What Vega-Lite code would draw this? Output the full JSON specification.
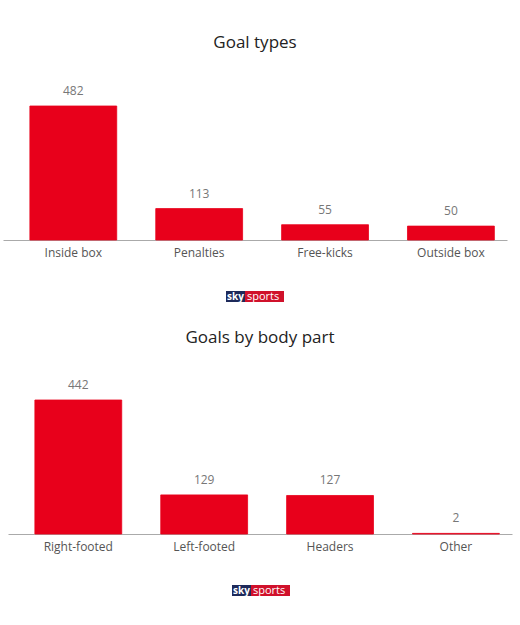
{
  "$schema": "https://vega.github.io/schema/vega-lite/v6.json",
  "background": "white",
  "padding": {"left": 3, "right": 3, "top": 34, "bottom": 0},
  "spacing": 27,
  "config": {
    "view": {"stroke": null},
    "font": "Open Sans",
    "title": {"fontSize": 17, "fontWeight": "normal", "color": "#222", "anchor": "middle"},
    "axisX": {"ticks": false, "domainColor": "#aaa", "labelColor": "#555", "labelFontSize": 12, "labelPadding": 7, "labelAngle": 0, "zindex": 0}
  },
  "vconcat": [
    {
      "title": {"text": "Goal types", "offset": 33},
      "width": 504,
      "height": 134,
      "data": {"values": [
        {"type": "Inside box", "goals": 482},
        {"type": "Penalties", "goals": 113},
        {"type": "Free-kicks", "goals": 55},
        {"type": "Outside box", "goals": 50}
      ]},
      "encoding": {
        "x": {"field": "type", "type": "nominal", "sort": null, "axis": {"title": null},
          "scale": {"paddingInner": 0.31, "paddingOuter": 0.157, "align": 0.68}},
        "y": {"field": "goals", "type": "quantitative", "scale": {"domain": [0, 482]}, "axis": null}
      },
      "layer": [
        {"mark": {"type": "bar", "color": "#e8001b", "stroke": "#e8001b", "strokeWidth": 0.8}},
        {"mark": {"type": "text", "dy": -15, "fontSize": 12, "color": "#777"}, "encoding": {"text": {"field": "goals"}}}
      ]
    },
    {
      "title": {"text": ".", "fontSize": 2, "color": "white", "offset": 3},
      "width": 504,
      "height": 11,
      "data": {"values": [
        {"part": "sky", "start": 0, "end": 19},
        {"part": "sports", "start": 19, "end": 58}
      ]},
      "encoding": {
        "x": {"field": "start", "type": "quantitative", "scale": {"domain": [-223, 281]}, "axis": null}
      },
      "layer": [
        {"mark": {"type": "rect"}, "encoding": {"x2": {"field": "end"}, "color": {"field": "part", "type": "nominal", "scale": {"domain": ["sky", "sports"], "range": ["#1e2a5a", "#d0112b"]}, "legend": null}}},
        {"transform": [{"filter": "datum.part == 'sky'"}], "mark": {"type": "text", "align": "left", "dx": 1, "color": "white", "fontSize": 10, "fontWeight": "bold"}, "encoding": {"text": {"field": "part"}}},
        {"transform": [{"filter": "datum.part == 'sports'"}], "mark": {"type": "text", "align": "left", "dx": 2, "color": "white", "fontSize": 11}, "encoding": {"text": {"field": "part"}}}
      ]
    },
    {
      "spacing": 0,
      "hconcat": [
        {"width": 5, "height": 1, "data": {"values": []}, "mark": "point"},
        {
          "title": {"text": "Goals by body part", "offset": 32},
          "width": 504,
          "height": 134,
          "data": {"values": [
            {"part": "Right-footed", "goals": 442},
            {"part": "Left-footed", "goals": 129},
            {"part": "Headers", "goals": 127},
            {"part": "Other", "goals": 2}
          ]},
          "encoding": {
            "x": {"field": "part", "type": "nominal", "sort": null, "axis": {"title": null},
              "scale": {"paddingInner": 0.31, "paddingOuter": 0.157, "align": 0.68}},
            "y": {"field": "goals", "type": "quantitative", "scale": {"domain": [0, 442]}, "axis": null}
          },
          "layer": [
            {"mark": {"type": "bar", "color": "#e8001b", "stroke": "#e8001b", "strokeWidth": 0.8}},
            {"mark": {"type": "text", "dy": -15, "fontSize": 12, "color": "#777"}, "encoding": {"text": {"field": "goals"}}}
          ]
        }
      ]
    },
    {
      "title": {"text": ".", "fontSize": 2, "color": "white", "offset": 3},
      "width": 504,
      "height": 11,
      "data": {"values": [
        {"part": "sky", "start": 0, "end": 19},
        {"part": "sports", "start": 19, "end": 58}
      ]},
      "encoding": {
        "x": {"field": "start", "type": "quantitative", "scale": {"domain": [-229, 275]}, "axis": null}
      },
      "layer": [
        {"mark": {"type": "rect"}, "encoding": {"x2": {"field": "end"}, "color": {"field": "part", "type": "nominal", "scale": {"domain": ["sky", "sports"], "range": ["#1e2a5a", "#d0112b"]}, "legend": null}}},
        {"transform": [{"filter": "datum.part == 'sky'"}], "mark": {"type": "text", "align": "left", "dx": 1, "color": "white", "fontSize": 10, "fontWeight": "bold"}, "encoding": {"text": {"field": "part"}}},
        {"transform": [{"filter": "datum.part == 'sports'"}], "mark": {"type": "text", "align": "left", "dx": 2, "color": "white", "fontSize": 11}, "encoding": {"text": {"field": "part"}}}
      ]
    }
  ]
}
